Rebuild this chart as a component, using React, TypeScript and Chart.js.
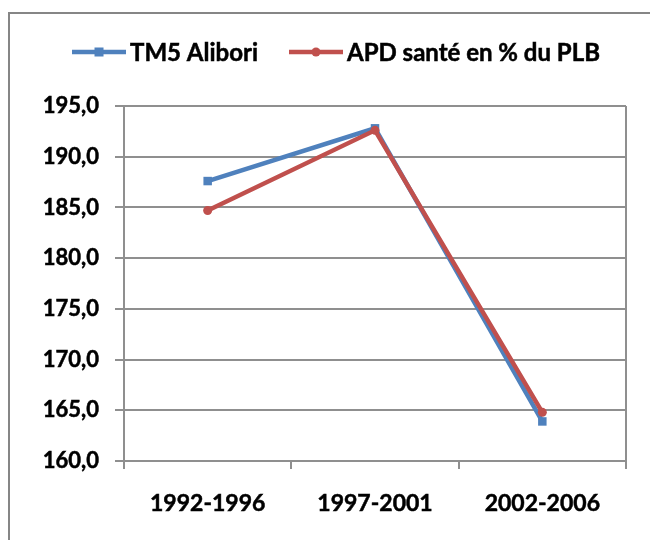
import { useEffect, useRef } from 'react';
import { Chart, registerables } from 'chart.js';

Chart.register(...registerables);

const categories = ['1992-1996', '1997-2001', '2002-2006'];
const tm5Alibori = [187.6, 192.8, 163.9];
const apdSante = [184.7, 192.6, 164.8];
const seriesLabels = ['TM5 Alibori', 'APD santé en % du PLB'];
const yMin = 160;
const yMax = 195;
const yStep = 5;

const BLUE = '#4F81BD';
const RED = '#C0504D';
const GRAY = '#8f8f8f';
const FRAME = '#868686';
const FONT = 'Lato';
const WEIGHT = 'bold';
const STROKE = 0.5;

const chartFrame = {
  id: 'chartFrame',
  beforeDraw(chart: any) {
    const ctx = chart.ctx as CanvasRenderingContext2D;
    ctx.save();
    ctx.fillStyle = '#fff';
    ctx.fillRect(0, 0, chart.width, chart.height);
    ctx.strokeStyle = FRAME;
    ctx.lineWidth = 2;
    ctx.beginPath();
    ctx.moveTo(9, chart.height + 5);
    ctx.lineTo(9, 13);
    ctx.lineTo(chart.width + 5, 13);
    ctx.stroke();
    ctx.restore();
  },
};

const excelLegend = {
  id: 'excelLegend',
  afterDraw(chart: any) {
    const ctx = chart.ctx as CanvasRenderingContext2D;
    ctx.save();
    ctx.font = `${WEIGHT} 24px ${FONT}`;
    const lineW = 54;
    const gapText = 4;
    const gapItem = 31;
    const items = chart.data.datasets.map((ds: any) => ({
      label: ds.label,
      color: ds.borderColor,
      style: ds.pointStyle,
      w: ctx.measureText(ds.label).width,
    }));
    const total =
      items.reduce((s: number, it: any) => s + lineW + gapText + it.w, 0) +
      gapItem * (items.length - 1);
    let x = 336 - total / 2;
    const y = 52;
    items.forEach((it: any) => {
      ctx.strokeStyle = it.color;
      ctx.lineWidth = 4.5;
      ctx.beginPath();
      ctx.moveTo(x, y);
      ctx.lineTo(x + lineW, y);
      ctx.stroke();
      ctx.fillStyle = it.color;
      if (it.style === 'rect') {
        ctx.fillRect(x + lineW / 2 - 4.5, y - 4.5, 9, 9);
      } else {
        ctx.beginPath();
        ctx.arc(x + lineW / 2, y, 4.5, 0, Math.PI * 2);
        ctx.fill();
      }
      ctx.fillStyle = '#000';
      ctx.strokeStyle = '#000';
      ctx.lineWidth = STROKE;
      ctx.textBaseline = 'middle';
      ctx.textAlign = 'left';
      ctx.fillText(it.label, x + lineW + gapText, y + 1);
      ctx.strokeText(it.label, x + lineW + gapText, y + 1);
      x += lineW + gapText + it.w + gapItem;
    });
    ctx.restore();
  },
};

export default function App() {
  const ref = useRef<HTMLCanvasElement>(null);

  useEffect(() => {
    if (!ref.current) return;
    const chart = new Chart(ref.current, {
      type: 'line',
      data: {
        labels: categories,
        datasets: [
          {
            label: seriesLabels[0],
            data: tm5Alibori,
            borderColor: BLUE,
            backgroundColor: BLUE,
            borderWidth: 4.5,
            pointStyle: 'rect',
            pointRadius: 6,
            pointBorderWidth: 0,
            tension: 0,
            order: 1,
          },
          {
            label: seriesLabels[1],
            data: apdSante,
            borderColor: RED,
            backgroundColor: RED,
            borderWidth: 4.5,
            pointStyle: 'circle',
            pointRadius: 4.5,
            pointBorderWidth: 0,
            tension: 0,
            order: 0,
          },
        ],
      },
      options: {
        animation: false,
        responsive: false,
        maintainAspectRatio: false,
        layout: { padding: { top: 106, right: 24, left: 0, bottom: 0 } },
        plugins: {
          legend: { display: false },
          tooltip: { enabled: false },
        },
        scales: {
          x: {
            type: 'category',
            offset: true,
            grid: {
              offset: true,
              drawOnChartArea: true,
              color: (c: any) => (c.type === 'scale' || c.index === 0 ? GRAY : 'transparent'),
              tickColor: GRAY,
              tickLength: 8,
              lineWidth: 2,
            },
            border: { display: false },
            ticks: {
              font: { family: FONT, size: 23, weight: WEIGHT },
              color: '#000',
              textStrokeColor: '#000',
              textStrokeWidth: STROKE,
              padding: 21,
              maxRotation: 0,
            },
            afterFit: (s: any) => {
              s.height = 79;
            },
          },
          y: {
            min: yMin,
            max: yMax,
            ticks: {
              stepSize: yStep,
              font: { family: FONT, size: 22, weight: WEIGHT },
              color: '#000',
              textStrokeColor: '#000',
              textStrokeWidth: STROKE,
              padding: 16,
              callback: (v: any) => Number(v).toFixed(1).replace('.', ','),
            },
            grid: { color: GRAY, lineWidth: 2, tickLength: 9 },
            border: { display: true, color: GRAY, width: 2 },
            afterFit: (s: any) => {
              s.width = 124;
            },
          },
        },
      },
      plugins: [chartFrame, excelLegend],
    });
    return () => chart.destroy();
  }, []);

  return (
    <canvas
      ref={ref}
      width={650}
      height={540}
      style={{ position: 'fixed', left: 0, top: 0, display: 'block' }}
    />
  );
}
